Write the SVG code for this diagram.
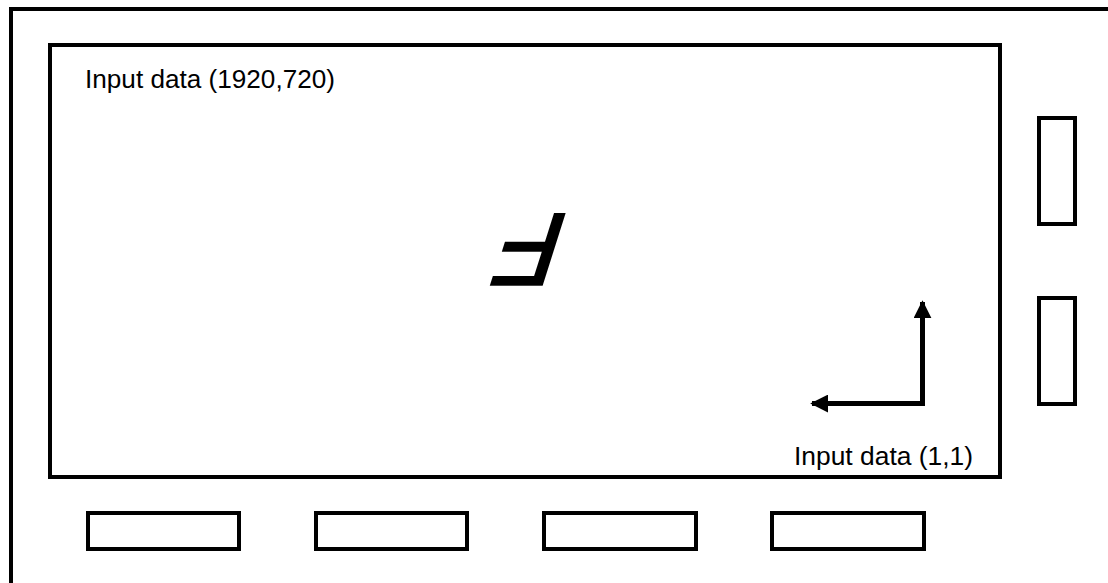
<svg xmlns="http://www.w3.org/2000/svg" width="1108" height="583" viewBox="0 0 1108 583">
<style>
.box{fill:#fff;stroke:#000;stroke-width:4}
.lbl{font-family:"Liberation Sans",Arial,sans-serif;font-size:25px;fill:#000}
.ln{stroke:#000;stroke-width:5;fill:none}
</style>
<defs>
<marker id="ah" viewBox="0 0 10 10" refX="9" refY="5" markerWidth="3.6" markerHeight="3.6" orient="auto" markerUnits="strokeWidth">
<path d="M0,0 L10,5 L0,10 z" fill="#000"/>
</marker>
</defs>
<rect width="1108" height="583" fill="#fff"/>
<g id="frame"><rect class="box" x="11" y="9" width="1110" height="590" fill="none"/></g>
<g id="input-area">
<rect class="box" x="50" y="45" width="950" height="432"/>
<text class="lbl" x="85" y="88" textLength="250" lengthAdjust="spacingAndGlyphs">Input data (1920,720)</text>
<text class="lbl" x="794" y="465" textLength="179" lengthAdjust="spacingAndGlyphs">Input data (1,1)</text>
<text transform="translate(536,214) skewX(-7) rotate(180)" x="0" y="0" text-anchor="middle" style="font-family:'Liberation Sans',Arial,sans-serif;font-size:103px;font-style:italic;stroke:#000;stroke-width:2">F</text>
</g>
<g id="right-box-1"><rect class="box" x="1039" y="118" width="36" height="106"/></g>
<g id="right-box-2"><rect class="box" x="1039" y="298" width="36" height="106"/></g>
<g id="bottom-box-1"><rect class="box" x="88" y="513" width="151" height="36"/></g>
<g id="bottom-box-2"><rect class="box" x="316" y="513" width="151" height="36"/></g>
<g id="bottom-box-3"><rect class="box" x="544" y="513" width="152" height="36"/></g>
<g id="bottom-box-4"><rect class="box" x="772" y="513" width="152" height="36"/></g>
<g id="connectors">
<path class="ln" d="M922.5,406 V302" marker-end="url(#ah)"/>
<path class="ln" d="M925,403.5 H812" marker-end="url(#ah)"/>
</g>
</svg>
